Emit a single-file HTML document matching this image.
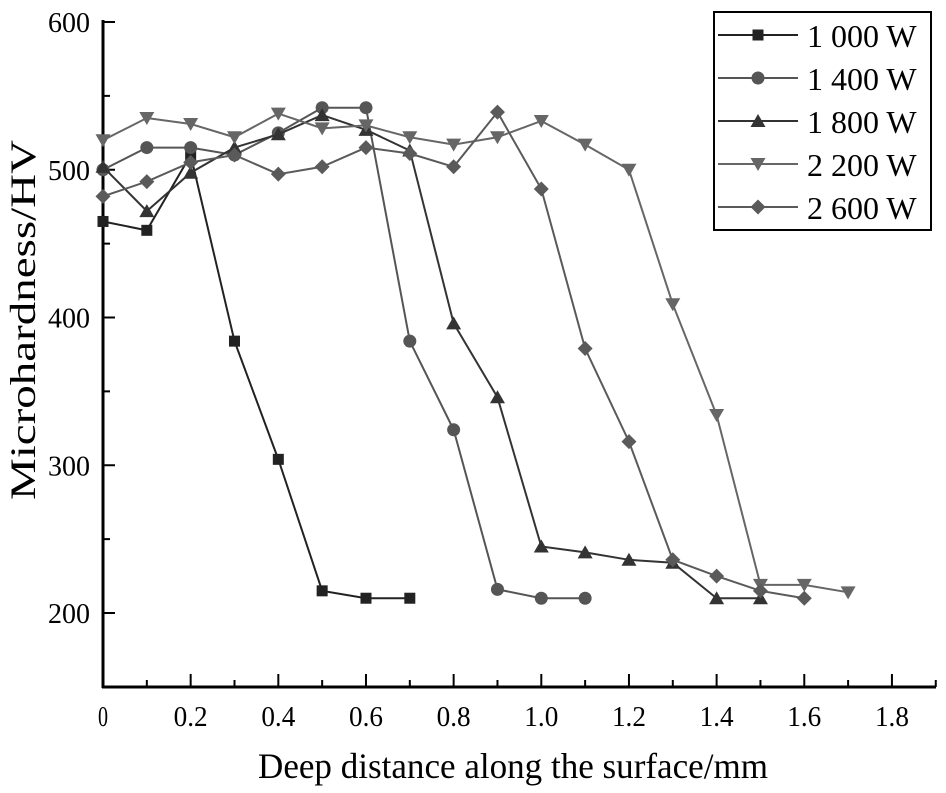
<!DOCTYPE html>
<html><head><meta charset="utf-8"><style>body{margin:0;background:#fff}svg{display:block}</style></head>
<body>
<svg id="s" width="946" height="793" xmlns="http://www.w3.org/2000/svg" font-family="Liberation Serif, serif">
</svg>
<script>
const s=document.getElementById('s');
const X=x=>103+x*438.3, Y=v=>613-(v-200)*1.4775;
let h='';
h+=`<line x1="103" y1="20" x2="103" y2="688" stroke="#000" stroke-width="3"/>`;
h+=`<line x1="102" y1="687" x2="936" y2="687" stroke="#000" stroke-width="3"/>`;
for(let v=200;v<=600;v+=50){const y=Y(v);const maj=v%100==0;h+=`<line x1="103" y1="${y}" x2="${103+(maj?12:7)}" y2="${y}" stroke="#000" stroke-width="2"/>`;if(maj)h+=`<text x="90" y="${y+10}" font-size="28" text-anchor="end" textLength="42" lengthAdjust="spacingAndGlyphs">${v}</text>`;}
const xl=['0','0.2','0.4','0.6','0.8','1.0','1.2','1.4','1.6','1.8'];
for(let i=0;i<=19;i++){const x=X(i*0.1);const maj=i%2==0;h+=`<line x1="${x}" y1="687" x2="${x}" y2="${687-(maj?13:7)}" stroke="#000" stroke-width="2"/>`;if(maj){const L=xl[i/2].length==1?10:34;h+=`<text x="${x}" y="726" font-size="28" text-anchor="middle" textLength="${L}" lengthAdjust="spacingAndGlyphs">${xl[i/2]}</text>`;}}
h+=`<text x="513" y="778" font-size="36" text-anchor="middle" textLength="510" lengthAdjust="spacingAndGlyphs">Deep distance along the surface/mm</text>`;
h+=`<text transform="translate(35,320) rotate(-90)" font-size="36" text-anchor="middle" textLength="360" lengthAdjust="spacingAndGlyphs">Microhardness/HV</text>`;
const S=[
['1 000 W','#222','sq',[465,459,510,384,304,215,210,210]],
['1 400 W','#555','ci',[500,515,515,510,525,542,542,384,324,216,210,210]],
['1 800 W','#333','tu',[502,472,498,515,524,537,527,513,396,346,245,241,236,234,210,210]],
['2 200 W','#666','td',[520,535,531,522,538,528,530,522,517,522,533,517,500,409,334,219,219,214]],
['2 600 W','#5a5a5a','di',[482,492,505,510,497,502,515,511,502,539,487,379,316,236,225,215,210]]];
function mk(t,x,y,c){
 if(t=='sq')return `<rect x="${x-5.5}" y="${y-5.5}" width="11" height="11" fill="${c}"/>`;
 if(t=='ci')return `<circle cx="${x}" cy="${y}" r="6.5" fill="${c}"/>`;
 if(t=='tu')return `<polygon points="${x},${y-7} ${x-7.5},${y+6} ${x+7.5},${y+6}" fill="${c}"/>`;
 if(t=='td')return `<polygon points="${x},${y+7} ${x-7.5},${y-6} ${x+7.5},${y-6}" fill="${c}"/>`;
 return `<polygon points="${x},${y-7.5} ${x+7.5},${y} ${x},${y+7.5} ${x-7.5},${y}" fill="${c}"/>`;
}
S.forEach(([n,c,t,d])=>{
 h+=`<polyline fill="none" stroke="${c}" stroke-width="2" points="${d.map((v,i)=>X(i*0.1)+','+Y(v)).join(' ')}"/>`;
 d.forEach((v,i)=>h+=mk(t,X(i*0.1),Y(v),c));
});
h+=`<rect x="714" y="12" width="217" height="218" fill="#fff" stroke="#000" stroke-width="2"/>`;
S.forEach(([n,c,t],i)=>{const y=35+i*43;
 h+=`<line x1="718" y1="${y}" x2="798" y2="${y}" stroke="${c}" stroke-width="2"/>`+mk(t,758,y,c);
 h+=`<text x="807" y="${y+12}" font-size="32">${n}</text>`;});
s.innerHTML=h;
</script>
</body></html>
